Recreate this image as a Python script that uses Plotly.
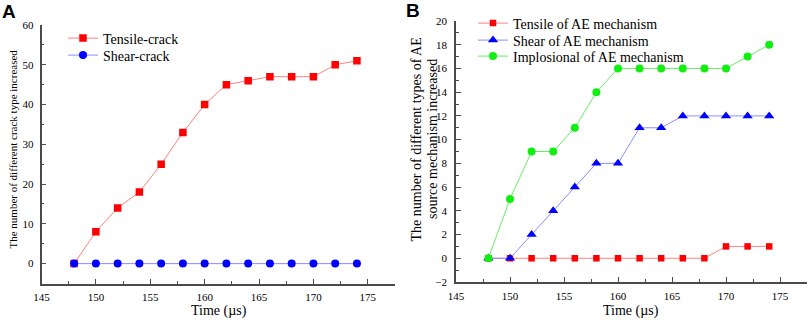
import plotly.graph_objects as go

W, H = 809, 326

# ---- data ----
time_us = [148, 150, 152, 154, 156, 158, 160, 162, 164, 166, 168, 170, 172, 174]
a_tensile_crack = [0, 8, 14, 18, 25, 33, 40, 45, 46, 47, 47, 47, 50, 51]
a_shear_crack = [0, 0, 0, 0, 0, 0, 0, 0, 0, 0, 0, 0, 0, 0]
b_tensile_ae = [0, 0, 0, 0, 0, 0, 0, 0, 0, 0, 0, 1, 1, 1]
b_shear_ae = [0, 0, 2, 4, 6, 8, 8, 11, 11, 12, 12, 12, 12, 12]
b_implosional_ae = [0, 5, 9, 9, 11, 14, 16, 16, 16, 16, 16, 16, 17, 18]

SERIF = "Liberation Serif, Times New Roman, serif"

def px(x):
    return x / W

def py(y):
    return 1 - y / H

fig = go.Figure()

# Panel A
fig.add_trace(go.Scatter(x=time_us, y=a_tensile_crack, mode="lines+markers", name="Tensile-crack",
                         line=dict(color="#FF8080", width=1),
                         marker=dict(symbol="square", size=7.5, color="#FF0000"),
                         xaxis="x", yaxis="y", legend="legend"))
fig.add_trace(go.Scatter(x=time_us, y=a_shear_crack, mode="lines+markers", name="Shear-crack",
                         line=dict(color="#8C8CFF", width=1),
                         marker=dict(symbol="circle", size=8, color="#0000FF"),
                         xaxis="x", yaxis="y", legend="legend3"))

# Panel B
fig.add_trace(go.Scatter(x=time_us, y=b_tensile_ae, mode="lines+markers", name="Tensile of AE mechanism",
                         line=dict(color="#FF8080", width=1),
                         marker=dict(symbol="square", size=6.5, color="#FF0000"),
                         xaxis="x2", yaxis="y2", legend="legend2"))
fig.add_trace(go.Scatter(x=time_us, y=b_shear_ae, mode="lines+markers", name="Shear of AE mechanism",
                         line=dict(color="#8C8CFF", width=1),
                         marker=dict(symbol="triangle-up", size=9, color="#0000FF"),
                         xaxis="x2", yaxis="y2", legend="legend4"))
fig.add_trace(go.Scatter(x=time_us, y=b_implosional_ae, mode="lines+markers", name="Implosional of AE mechanism",
                         line=dict(color="#66EE66", width=1),
                         marker=dict(symbol="circle", size=8, color="#11EE11"),
                         xaxis="x2", yaxis="y2", legend="legend5"))

axis_common = dict(
    showline=True, linecolor="#4A4A4A", linewidth=1.5, mirror=False,
    ticks="inside", ticklen=5, tickwidth=1.2, tickcolor="#4A4A4A",
    showgrid=False, zeroline=False, automargin=False,
    tickfont=dict(family=SERIF, size=11, color="black"),
)

def leg(x, top):
    return dict(x=px(x), y=py(top), xanchor="left", yanchor="top",
                bgcolor="rgba(0,0,0,0)", font=dict(family=SERIF, size=14, color="black"))

fig.update_layout(
    width=W, height=H,
    font=dict(family=SERIF, color="black"),
    margin=dict(l=0, r=0, t=0, b=0),
    paper_bgcolor="white", plot_bgcolor="white",
    xaxis=dict(domain=[px(41.5), px(395)], range=[145, 177.5], anchor="y",
               tick0=145, dtick=5, minor=dict(ticks="inside", dtick=2.5, ticklen=3, tickcolor="#4A4A4A"),
               ticklabelstandoff=3, **axis_common),
    yaxis=dict(domain=[py(283.5), py(25)], range=[-5, 60], anchor="x",
               tick0=0, dtick=10, minor=dict(ticks="inside", dtick=5, ticklen=3, tickcolor="#4A4A4A"),
               ticklabelstandoff=4, **axis_common),
    xaxis2=dict(domain=[px(456), px(807)], range=[145, 177.5], anchor="y2",
                tick0=145, dtick=5, minor=dict(ticks="inside", dtick=2.5, ticklen=3, tickcolor="#4A4A4A"),
                ticklabelstandoff=3, **axis_common),
    yaxis2=dict(domain=[py(282), py(21)], range=[-2, 20], anchor="x2",
                tick0=0, dtick=2, minor=dict(ticks="inside", dtick=1, ticklen=3, tickcolor="#4A4A4A"),
                ticklabelstandoff=5, **axis_common),
    legend=leg(63, 22.5),
    legend3=leg(63, 39.5),
    legend2=leg(473, 7.5),
    legend4=leg(473, 24.5),
    legend5=leg(473, 40.5),
    showlegend=True,
)

annotations = [
    dict(text="<b>A</b>", x=px(9), y=py(11), font=dict(family="Liberation Sans, Arial, sans-serif", size=19, color="black")),
    dict(text="<b>B</b>", x=px(413), y=py(10), font=dict(family="Liberation Sans, Arial, sans-serif", size=19, color="black")),
    dict(text="Time (\u00b5s)", x=px(219), y=py(311), font=dict(family=SERIF, size=14, color="black")),
    dict(text="Time (\u00b5s)", x=px(631), y=py(311), font=dict(family=SERIF, size=14, color="black")),
    dict(text="The number of different crack type increased", x=px(12.5), y=py(149), textangle=-90,
         font=dict(family=SERIF, size=11, color="black")),
    dict(text="The number of different types of AE", x=px(415.5), y=py(140),
         textangle=-90, font=dict(family=SERIF, size=14, color="black")),
    dict(text="source mechanism increased", x=px(432), y=py(139),
         textangle=-90, font=dict(family=SERIF, size=14, color="black")),
]
for a in annotations:
    a.update(xref="paper", yref="paper", showarrow=False, xanchor="center", yanchor="middle")
fig.update_layout(annotations=annotations)

fig.write_html("out.html", config={"displayModeBar": False},
               post_script="document.body.style.margin='0';document.body.style.padding='0';document.body.style.overflow='hidden';")
